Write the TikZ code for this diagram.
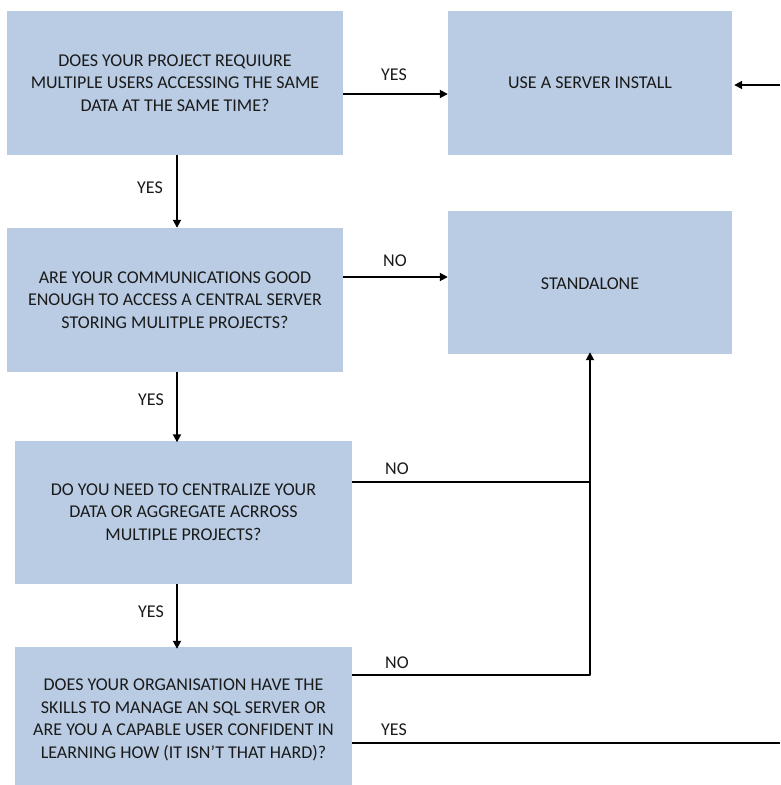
\documentclass[tikz,border=0pt]{standalone}
\usepackage{fontspec}
\setmainfont{Carlito}
\usetikzlibrary{arrows.meta}
\definecolor{boxfill}{HTML}{B9CCE4}
\definecolor{txt}{HTML}{1A1A1A}
\begin{document}
\begin{tikzpicture}[x=1pt,y=-1pt,
  qbox/.style={fill=boxfill,draw=none,inner sep=0pt,align=center,text=txt,
    font=\fontsize{18}{22.5}\selectfont},
  lab/.style={text=txt,font=\fontsize{18}{20}\selectfont,inner sep=0pt},
  conn/.style={line width=1.8pt,draw=black},
  arr/.style={conn,-{Triangle[length=8pt,width=8pt]}}]
\useasboundingbox (0,0) rectangle (780,785);
\fill[white] (0,0) rectangle (780,785);
% boxes
\node[qbox,minimum width=336pt,minimum height=144pt] (q1) at (175,83) {DOES YOUR PROJECT REQUIURE\\MULTIPLE USERS ACCESSING THE SAME\\DATA AT THE SAME TIME?};
\node[qbox,minimum width=284pt,minimum height=144pt] (srv) at (590,83) {USE A SERVER INSTALL};
\node[qbox,minimum width=336pt,minimum height=144pt] (q2) at (175,300) {ARE YOUR COMMUNICATIONS GOOD\\ENOUGH TO ACCESS A CENTRAL SERVER\\STORING MULITPLE PROJECTS?};
\node[qbox,minimum width=284pt,minimum height=143pt] (sa) at (590,282.5) {};
\node[lab] (satext) at (590,284) {STANDALONE};
\node[qbox,minimum width=337pt,minimum height=143pt] (q3) at (183.5,512) {DO YOU NEED TO CENTRALIZE YOUR\\DATA OR AGGREGATE ACRROSS\\MULTIPLE PROJECTS?};
\node[qbox,minimum width=337pt,minimum height=146pt] (q4) at (183.5,720) {DOES YOUR ORGANISATION HAVE THE\\SKILLS TO MANAGE AN SQL SERVER OR\\ARE YOU A CAPABLE USER CONFIDENT IN\\LEARNING HOW (IT ISN'T THAT HARD)?};
% coordinates
\coordinate (j) at (590,482);
\coordinate (k) at (590,675);
\coordinate (re) at (780,743);
\coordinate (rs) at (780,85);
% connectors
\draw[arr] (q1.east |- 0,94) -- (srv.west |- 0,94);
\draw[arr] (q1.south -| 177,0) -- (q2.north -| 177,0);
\draw[arr] (q2.east |- 0,277) -- (sa.west |- 0,277);
\draw[arr] (q2.south -| 177,0) -- ([yshift=-2pt]q3.north -| 177,0);
\draw[arr] (q3.south -| 177,0) -- ([yshift=-2pt]q4.north -| 177,0);
\draw[conn] (q3.east |- j) -- (j);
\draw[conn,line join=round] (q4.east |- k) -- (k) -- (j);
\draw[arr] (j) -- ([yshift=2pt]sa.south -| j);
\draw[conn] (q4.east |- re) -- (re);
\draw[arr] (rs) -- ([xshift=2pt]srv.east |- rs);
% labels
\node[lab] (l1) at (394,75) {YES};
\node[lab] (l2) at (150,188) {YES};
\node[lab] (l3) at (395,261) {NO};
\node[lab] (l4) at (151,400) {YES};
\node[lab] (l5) at (397,469) {NO};
\node[lab] (l6) at (151,612) {YES};
\node[lab] (l7) at (397,663) {NO};
\node[lab] (l8) at (394,730) {YES};
\end{tikzpicture}
\end{document}
